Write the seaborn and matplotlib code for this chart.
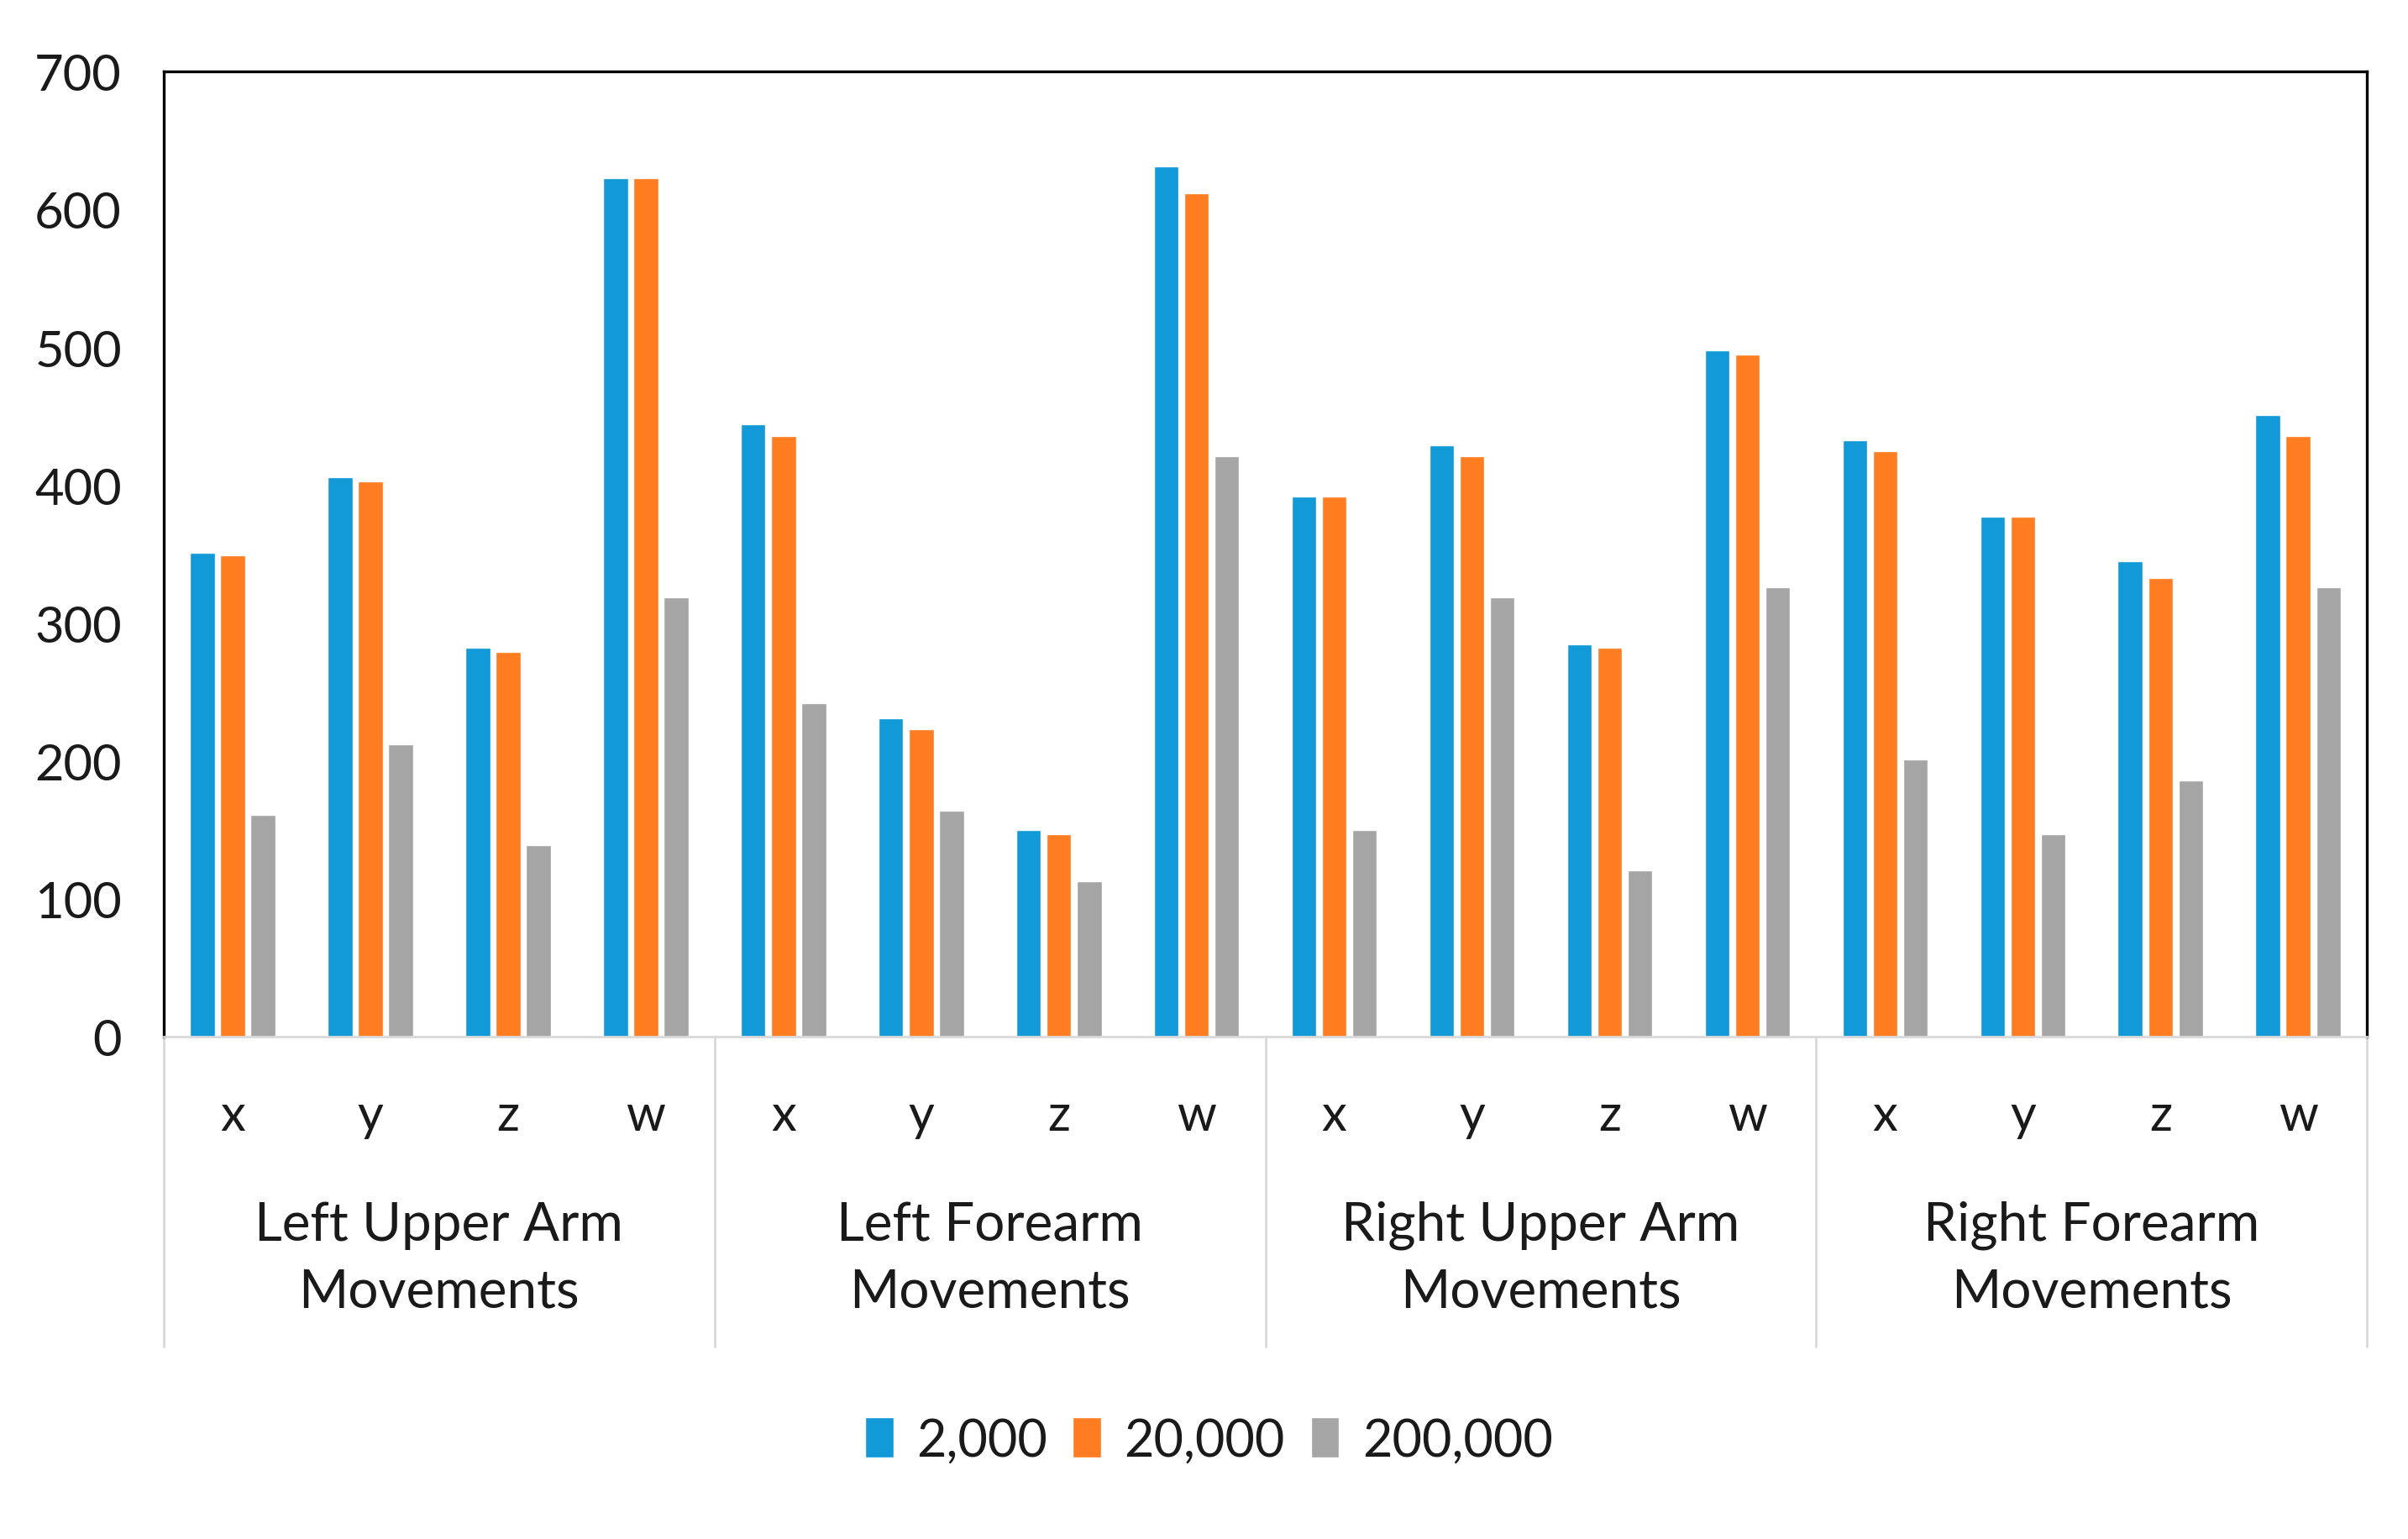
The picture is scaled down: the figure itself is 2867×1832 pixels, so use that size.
import matplotlib
matplotlib.use("Agg")
import matplotlib.pyplot as plt
import matplotlib.transforms as mtransforms
import seaborn as sns
import pandas as pd

# ---- data ----
groups = ["Left Upper Arm\nMovements", "Left Forearm\nMovements",
          "Right Upper Arm\nMovements", "Right Forearm\nMovements"]
axes_labels = ["x", "y", "z", "w"]
series_names = ["2,000", "20,000", "200,000"]
vals_2000 = [351, 406, 282, 623, 444, 231, 150, 631, 392, 429, 285, 498, 433, 377, 345, 451]
vals_20000 = [349, 403, 279, 623, 436, 223, 147, 612, 392, 421, 282, 495, 425, 377, 333, 436]
vals_200000 = [161, 212, 139, 319, 242, 164, 113, 421, 150, 319, 121, 326, 201, 147, 186, 326]
y_ticks = [0, 100, 200, 300, 400, 500, 600, 700]
colors = ["#129AD8", "#FF7D20", "#A5A5A5"]

# ---- build table ----
cat_keys = [f"{g}|{a}" for g in groups for a in axes_labels]
tick_labels = [a for g in groups for a in axes_labels]
rows = []
for name, vals in zip(series_names, [vals_2000, vals_20000, vals_200000]):
    for k, v in zip(cat_keys, vals):
        rows.append({"cat": k, "value": v, "series": name})
df = pd.DataFrame(rows)

sns.set_style("white")
plt.rcParams["font.family"] = ["Lato", "DejaVu Sans"]
text_color = "#1a1a1a"

fig = plt.figure(figsize=(28.67, 18.33), dpi=100)
ax = fig.add_axes([0.068, 0.326, 0.915, 0.627])

sns.barplot(data=df, x="cat", y="value", hue="series", order=cat_keys,
            hue_order=series_names, palette=colors, width=0.66, gap=0.18,
            saturation=1, errorbar=None, ax=ax, legend=True)

ax.set_xlim(-0.5, len(cat_keys) - 0.5)
ax.set_ylim(0, 700)
ax.set_yticks(y_ticks)
ax.set_yticklabels([str(t) for t in y_ticks], fontsize=43, color=text_color)
ax.set_xticks(range(len(cat_keys)))
ax.set_xticklabels(tick_labels, fontsize=43, color=text_color)
ax.tick_params(axis="both", length=0)
ax.tick_params(axis="y", pad=36)
ax.tick_params(axis="x", pad=48)
ax.set_xlabel("")
ax.set_ylabel("")
ax.grid(False)

for s in ["top", "left", "right"]:
    ax.spines[s].set_color("#000000")
    ax.spines[s].set_linewidth(2.4)
ax.spines["bottom"].set_color("#D9D9D9")
ax.spines["bottom"].set_linewidth(2)

# group labels and separators
trans = mtransforms.blended_transform_factory(ax.transData, ax.transAxes)
n = len(axes_labels)
for i, g in enumerate(groups):
    center = i * n + (n - 1) / 2
    ax.text(center, -0.229, g, transform=trans, ha="center", va="center",
            fontsize=46, color=text_color, linespacing=1.45)
for b in range(len(groups) + 1):
    xb = b * n - 0.5
    ax.plot([xb, xb], [0, -0.321], transform=trans, color="#D9D9D9",
            lw=2, clip_on=False)

# legend
handles, labels = ax.get_legend_handles_labels()
ax.legend_.remove()
fig.legend(handles, labels, loc="center", bbox_to_anchor=(0.502, 0.064),
           ncol=3, frameon=False, fontsize=44, handlelength=0.55,
           handleheight=0.85, handletextpad=0.45, columnspacing=0.5,
           labelcolor=text_color)

fig.savefig("out.png", dpi=100, facecolor="white")
